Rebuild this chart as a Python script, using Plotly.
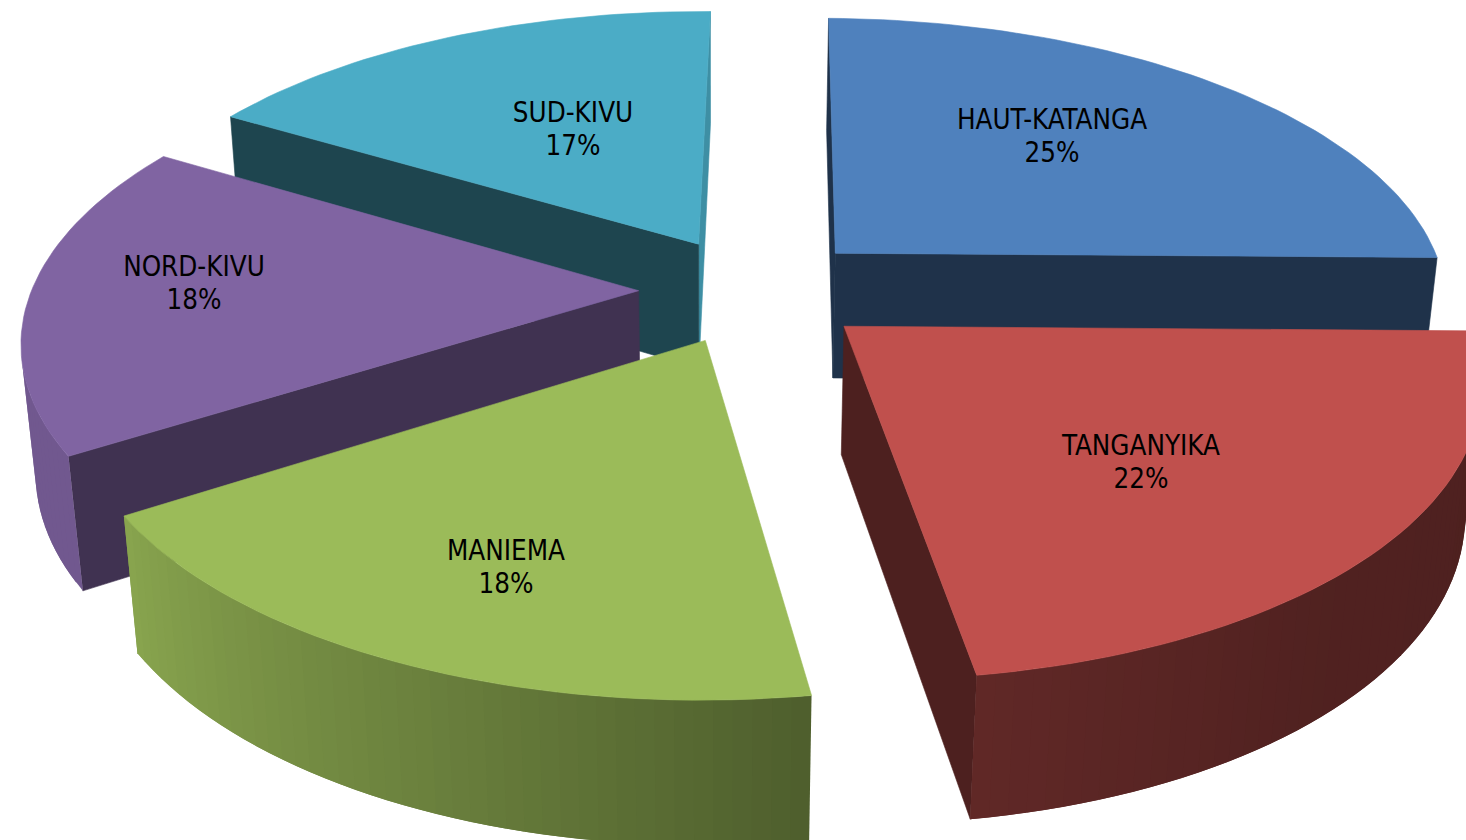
import math
import plotly.graph_objects as go

# ---- data ----
regions = ["HAUT-KATANGA", "TANGANYIKA", "MANIEMA", "NORD-KIVU", "SUD-KIVU"]
shares = [25.0, 22.4, 18.4, 17.5, 16.7]
percent_labels = ["25%", "22%", "18%", "18%", "17%"]

# ---- styling ----
top_colors = ["#4f81bd", "#c0504d", "#9bbb59", "#8064a2", "#4bacc6"]
radial_factor = [0.39, 0.40, 0.40, 0.50, 0.40]
draw_order = [4, 0, 3, 1, 2]
name_px = [(1052, 122), (1141, 448), (506, 553), (194, 269), (573, 115)]
LINE_GAP = 33

# ---- perspective pie model (plane coords -> pixels) ----
VX, VY = 786.0, -1472.0      # vanishing point of the plane's depth lines
G = 0.161                    # perspective strength
Q = 0.0025                   # slight sideways tilt of the plane
A_RIGHT, A_LEFT = 613.0, 607.0   # radius scale in px on each side
D0 = 1762.0                  # pixel height of the pie centre below VY
C0 = -32.0                   # horizontal offset of the centre
EXPLODE = 0.19
NX, NY = 715.0, 6500.0       # vanishing point of the vertical edges
H = 0.0208                   # thickness


def project(u, v, down=False):
    w = 1 + G * v - Q * u
    x = VX + (C0 + (A_RIGHT if u > 0 else A_LEFT) * u) / w
    y = VY + D0 / w
    if down:
        t = H / (w + H)
        x += (NX - x) * t
        y += (NY - y) * t
    return x, y


def shade(hex_color, f):
    r, g, b = (int(hex_color[i:i + 2], 16) for i in (1, 3, 5))
    return f"rgb({r * f:.0f},{g * f:.0f},{b * f:.0f})"


def arc_factor(theta):
    stops = [(0, .40), (90, .40), (140, .42), (170, .50), (200, .68), (237, .88), (360, .88)]
    for (a0, f0), (a1, f1) in zip(stops, stops[1:]):
        if theta <= a1:
            return f0 + (f1 - f0) * (theta - a0) / (a1 - a0)
    return stops[-1][1]


fig = go.Figure()


def poly(points, color, name, lw=0.6):
    xs = [p[0] for p in points] + [points[0][0]]
    ys = [p[1] for p in points] + [points[0][1]]
    fig.add_trace(go.Scatter(x=xs, y=ys, mode="lines", fill="toself", fillcolor=color,
                             line=dict(color=color, width=lw), hoverinfo="skip",
                             showlegend=False, name=name))


def faces_viewer(p, q):
    a, b = project(*p), project(*q)
    b2 = project(*q, down=True)
    dx, dy = b[0] - a[0], b[1] - a[1]
    ex, ey = b2[0] - b[0], b2[1] - b[1]
    return dx * ey - dy * ex < 0


def wall(p, q, color, name):
    if faces_viewer(p, q):
        poly([project(*p), project(*q), project(*q, down=True), project(*p, down=True)], color, name)


total = sum(shares)
start = 0.0
slices = []
for s in shares:
    end = start + 360.0 * s / total
    slices.append((start, end))
    start = end

for i in draw_order:
    a0, a1 = slices[i]
    mid = math.radians((a0 + a1) / 2)
    cu, cv = EXPLODE * math.sin(mid), EXPLODE * math.cos(mid)
    n = max(8, int((a1 - a0) / 1.5))
    thetas = [a0 + (a1 - a0) * k / n for k in range(n + 1)]
    rim = [(cu + math.sin(math.radians(t)), cv + math.cos(math.radians(t))) for t in thetas]
    base = top_colors[i]
    name = regions[i]
    end_factor = 0.83 if i == 4 else radial_factor[i]
    wall(rim[-1], (cu, cv), shade(base, end_factor), name)
    wall((cu, cv), rim[0], shade(base, radial_factor[i]), name)
    for k in range(n):
        if faces_viewer(rim[k], rim[k + 1]):
            f = arc_factor((thetas[k] + thetas[k + 1]) / 2)
            band = rim[k:k + 3]          # each band runs under the next one, so no seams show
            pts = [project(*p) for p in band] + [project(*p, down=True) for p in reversed(band)]
            poly(pts, shade(base, f), name, lw=0)
    poly([project(cu, cv)] + [project(*p) for p in rim], base, name)

fig.add_trace(go.Scatter(
    x=[p[0] for p in name_px] * 2,
    y=[p[1] for p in name_px] + [p[1] + LINE_GAP for p in name_px],
    mode="text",
    text=regions + percent_labels,
    textposition="middle center",
    textfont=dict(family="DejaVu Sans Condensed, DejaVu Sans", size=27.5, color="#000000"),
    hoverinfo="skip", showlegend=False))

fig.update_layout(
    width=1466, height=840, margin=dict(l=0, r=0, t=0, b=0),
    paper_bgcolor="white", plot_bgcolor="white",
    xaxis=dict(range=[0, 1466], visible=False, fixedrange=True),
    yaxis=dict(range=[840, 0], visible=False, fixedrange=True),
)
fig.write_html("out.html", config={"displayModeBar": False},
               post_script="document.body.style.margin='0';document.body.style.overflow='hidden';")
